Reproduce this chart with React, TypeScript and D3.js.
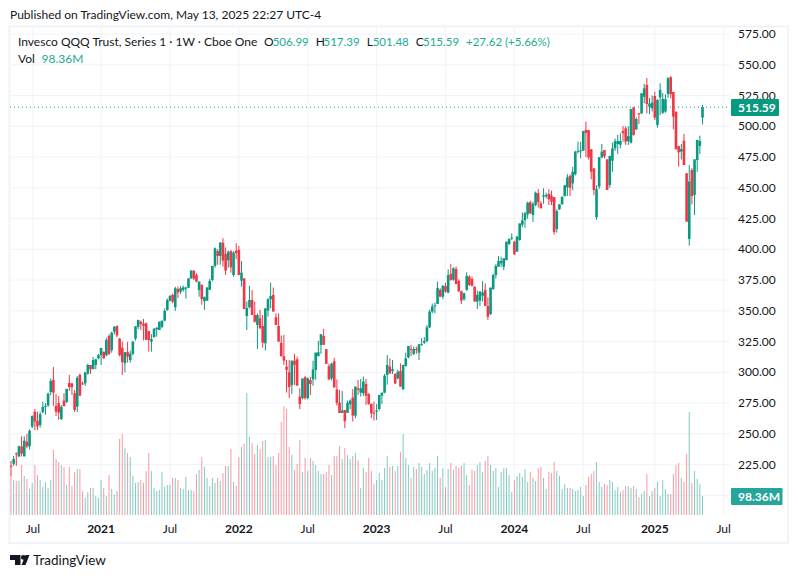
import * as d3 from 'd3';

const opens = [
  224, 225.7, 234, 231.7, 239.8, 231.7, 243.6, 239.8, 255.9, 268,
  260.5, 257.2, 267.8, 272, 273, 284, 293.8, 272.7, 275, 262,
  277, 276, 291.4, 291, 283, 272, 297.9, 291, 291, 299,
  306, 302.7, 306, 311.4, 314, 316.8, 313.9, 329.6, 318, 333,
  337.7, 327.4, 320, 307.4, 316.6, 310, 315, 327.4, 337, 341,
  339.6, 339.9, 333.6, 325, 328.5, 335, 334.4, 337, 342, 350.7,
  358.3, 362.9, 352.9, 367.8, 365.6, 367, 368, 368.8, 376.4, 382.7,
  379, 367, 371, 358, 358.3, 367, 375, 386.5, 398.6, 394.6,
  405.4, 396.2, 391, 398.4, 379.1, 398.9, 399.5, 374.5, 376.4, 345.8,
  352.9, 358.8, 346.6, 338.5, 343.9, 337.7, 323.6, 350.2, 359.4, 362.9,
  344.7, 337.7, 324, 313, 304.6, 300, 289.8, 309.5, 310.6, 280.3,
  279, 296, 279, 293.8, 294.3, 302, 313.3, 322.3, 329.6, 318.8,
  305, 295, 309, 286, 275.3, 267, 269.4, 267, 274, 279.5,
  264.8, 287, 283.5, 283, 290.5, 282.4, 274.3, 267.3, 268, 270.2,
  281, 283.5, 297.9, 304.6, 301, 298.7, 295, 301, 286.2, 305.2,
  312.2, 319, 315, 319, 316, 322.3, 324.1, 325.5, 336.6, 349.4,
  354, 355.6, 367, 361.5, 370.2, 364.8, 380, 375.3, 384, 374.3,
  365.9, 359.4, 367, 377.8, 375.9, 369.7, 357.5, 358.3, 362.3, 367,
  353.9, 347.4, 367.7, 379.1, 385.9, 388.6, 385.9, 391.3, 404.3, 409.2,
  406.2, 398.1, 407.6, 420, 423.8, 428.4, 438.2, 427.9, 436, 445.5,
  437.4, 442.8, 443.1, 445, 443.6, 442.5, 416.5, 432.5, 436.8, 443.3,
  450.4, 459.6, 453.6, 461, 479.4, 479.9, 480.2, 497, 497, 481.3,
  465.8, 426, 451, 474.8, 480.7, 473.1, 452.3, 472, 482, 485.6,
  485, 496.2, 498.3, 487.9, 486.7, 515.4, 497.5, 510.5, 510.5, 524,
  533.6, 516, 514.6, 524.6, 501, 523.5, 511, 512, 526.2, 539.8,
  527.9, 511.9, 484, 479.4, 488.3, 461.8, 408.4, 464.5, 444.2, 472.6,
  484, 506.99,
];

const highs = [
  228, 232, 235, 240.5, 248, 248, 250, 253.6, 265, 270.2,
  268, 268, 276.2, 275, 283.5, 295, 304.4, 282.4, 280.8, 273.5,
  283, 286.5, 297.9, 291.5, 285.7, 297, 299, 292.5, 300, 307,
  306, 312.5, 311, 315, 319.8, 316.8, 328, 331, 333, 337.7,
  338, 328, 325, 316.3, 324.7, 317.6, 325.5, 337.4, 342.6, 342,
  343.4, 340.4, 333.6, 331, 335.8, 336.6, 341.2, 342, 352, 360,
  362.9, 364, 369.5, 369.7, 370.2, 370.5, 369.5, 376.4, 383, 383,
  380.5, 373.7, 371.6, 361.5, 369, 376, 386.5, 401.5, 400, 406,
  409, 401.6, 399, 399.5, 398.4, 404.9, 402.7, 390.5, 376.4, 357.5,
  370.2, 367, 357.5, 348, 350.7, 346.6, 352, 360.2, 372.9, 369,
  348, 348, 330, 330.4, 310, 310, 309.5, 315, 312.8, 287,
  295, 297, 296, 296.5, 309.5, 316, 325.5, 331, 335.3, 318.8,
  307, 307.9, 311.7, 294.3, 285.7, 285, 269.4, 277, 278, 286.3,
  288.4, 293.8, 294.6, 296.5, 294.6, 283, 274.8, 276.2, 274.3, 281.6,
  283.5, 298.7, 314, 311.4, 310, 299.2, 302, 307.3, 306, 316,
  321.4, 322.3, 320.9, 320.9, 322.8, 327.7, 328.5, 338.5, 351, 356,
  356.7, 373.7, 368.3, 371, 372.9, 383.7, 388, 385.4, 385.9, 375.6,
  366.4, 364.8, 381.3, 379, 377.8, 369.7, 366.4, 366, 374.3, 372.4,
  360.9, 369, 380, 388, 394.6, 394, 392.7, 406.2, 409, 413,
  407, 411, 421, 430, 430.5, 438.7, 439.5, 438.7, 447, 449,
  439.3, 449.6, 446, 448.8, 447.7, 442.5, 432.6, 436.6, 442.8, 452.3,
  461, 461, 467, 480, 487.5, 487.5, 496.2, 503.8, 497, 481.3,
  465.8, 452, 475, 485.6, 480.7, 473.1, 475.9, 486.7, 490, 492.9,
  494.3, 500.2, 500, 500, 514, 515.4, 507.3, 511, 526.8, 534.4,
  539.2, 523, 525, 528, 522, 534.9, 527, 526, 540, 540.9,
  527.9, 511.9, 484, 485.6, 493.7, 461.8, 468.5, 466, 473.1, 488.9,
  492.4, 517.39,
];

const lows = [
  216, 224, 224, 231, 231.7, 231.7, 238.4, 237.3, 254.5, 253,
  253, 255, 266.5, 265.5, 272, 281.5, 272.7, 264.5, 261.3, 261.3,
  272, 275, 285, 281.6, 267.8, 267.8, 281, 289.7, 289, 298,
  298.8, 302.4, 302.5, 310.6, 306, 311, 313, 314, 316, 331,
  328.5, 313, 297.9, 300, 308, 308, 314, 325.8, 335, 334.4,
  326, 326.3, 316.8, 316.8, 328.5, 329, 334.4, 336, 341.5, 350,
  357.5, 356, 350, 360.4, 363.7, 365.6, 360, 368.5, 376, 375,
  373.2, 361.5, 355, 350.7, 358, 367, 374, 385, 387.5, 387.5,
  386, 379.1, 385, 381, 377.8, 392, 379.1, 369.7, 351.5, 334.4,
  352, 346.6, 340.4, 319, 335.3, 320, 317.8, 345.3, 352, 349.4,
  338.5, 325, 313, 306, 283.6, 279, 282.5, 289.8, 289.2, 270,
  278, 277.7, 278, 281.5, 289, 294, 312.8, 315, 322.3, 306.9,
  293.5, 293.5, 287.7, 273, 266.8, 267, 254.6, 267, 270, 260,
  262.7, 281.6, 280.3, 280.8, 273.5, 273.5, 262.7, 260.8, 261.3, 269,
  274.3, 283, 290, 298.7, 298.7, 290.5, 294.3, 288.4, 285.7, 304.6,
  311.4, 313.3, 314, 315, 310, 321.7, 323, 324.4, 336, 348,
  348, 355.6, 361, 359.4, 364.8, 364.3, 374.5, 374.5, 371.5, 365.3,
  355.6, 358.3, 366.4, 370.2, 369.7, 357.5, 351.5, 354, 357.5, 354,
  342.5, 346.6, 367, 376.3, 385.9, 385.9, 383, 391, 403.5, 407.6,
  395.4, 398, 407, 418, 417.6, 425, 428.7, 422.2, 435, 434,
  433.3, 437, 441.4, 436, 436, 412, 413.5, 432, 436, 443,
  443.3, 443.3, 448, 460, 478, 474, 480, 474.8, 473, 456.9,
  444, 424, 449, 473.9, 473.9, 448.2, 450, 463, 480, 477.5,
  482, 487.5, 485, 484.8, 486, 492.4, 497, 501.9, 510, 518.7,
  510.5, 510, 512, 505, 499, 509, 510, 511, 523, 522.7,
  497.5, 481.3, 467.2, 473, 468.5, 422.5, 403, 436.5, 427.9, 463,
  477.5, 501.48,
];

const closes = [
  223.3, 229.5, 233.5, 239.8, 234, 244.4, 239.8, 252.5, 264.5, 260,
  256, 266, 271.9, 272.5, 282.7, 293, 283.5, 268, 267.3, 272,
  272.7, 286.5, 288, 288, 269.4, 295.5, 281, 290.2, 300, 306,
  302.5, 310, 310.6, 314, 319.8, 311.4, 326.3, 315, 332.3, 336.9,
  330, 314, 308.4, 316.3, 312.8, 315, 325, 337.4, 342.6, 339.3,
  337.7, 326.3, 326.3, 327, 335.5, 336.3, 341.2, 342, 350, 358.8,
  362, 357.5, 368.3, 364.8, 368.3, 369, 369, 376.4, 382.7, 376.2,
  373.7, 373.7, 359.6, 361.3, 369, 374.3, 386.5, 400.8, 394.6, 405.4,
  390.8, 382.7, 398, 385.4, 397.3, 397, 379.1, 381, 351.5, 352.3,
  358.8, 346.6, 341.2, 346.6, 335.8, 324.1, 352, 359.4, 362, 349.4,
  338.5, 325, 313, 309.5, 302, 288, 309.5, 306, 289.2, 274.3,
  295, 279, 295, 290.5, 302.4, 316, 316.3, 331, 322.3, 306.9,
  294.3, 307, 287.7, 275, 267, 269, 260.3, 275.3, 277, 264.8,
  288.4, 285.8, 287, 292.5, 281, 274.3, 266.7, 266.4, 269, 281.6,
  283.5, 297.3, 306, 299.2, 302.5, 291, 300.6, 288.4, 306, 311.4,
  321.4, 318.2, 319, 318.2, 322.8, 322.8, 325.5, 336.6, 349.4, 353.5,
  354.5, 368.6, 361.5, 370.2, 365.6, 379, 375, 384.6, 371.8, 365.9,
  358.3, 364.2, 378.3, 371, 370.5, 357.5, 362.9, 365.6, 365, 354,
  345.2, 368.8, 379.1, 386.4, 390.5, 390.5, 392.7, 406.2, 408.4, 409.6,
  396, 410.3, 421, 423.5, 429.3, 437.9, 429.3, 436.8, 446, 438.2,
  433.3, 443.9, 444.2, 440.6, 438.7, 414, 431, 436.6, 442.8, 452,
  458.5, 450, 463, 479.4, 480, 480.4, 496.2, 494.5, 474.8, 463.1,
  448.2, 449, 474.8, 479.4, 475.5, 448.2, 475.9, 482, 487.9, 488,
  488, 494.3, 487.5, 492, 514, 492.9, 505.9, 510, 526.8, 530.8,
  518.1, 518.4, 519.2, 507, 521.4, 529.5, 522.2, 522, 539, 526.2,
  507.8, 481.3, 478.8, 481.5, 468.5, 422.5, 455, 443.3, 473.1, 488.9,
  488, 515.59,
];

// weekly volume in millions
const volumes = [
  207, 181, 176, 176, 259, 202, 186, 135, 166, 259,
  207, 181, 145, 171, 140, 181, 337, 290, 274, 259,
  249, 155, 249, 150, 223, 238, 238, 124, 88, 119,
  140, 140, 98, 88, 181, 140, 98, 207, 135, 104,
  124, 394, 419, 347, 321, 300, 202, 166, 171, 181,
  166, 228, 321, 228, 140, 124, 129, 223, 145, 155,
  155, 192, 192, 181, 140, 135, 197, 129, 129, 124,
  212, 233, 300, 249, 192, 150, 192, 166, 192, 176,
  217, 254, 254, 342, 171, 150, 300, 352, 368, 632,
  404, 373, 316, 362, 342, 383, 388, 300, 300, 305,
  259, 321, 482, 564, 549, 352, 311, 233, 264, 388,
  223, 295, 228, 295, 280, 259, 228, 212, 212, 223,
  259, 207, 305, 305, 357, 290, 347, 311, 290, 305,
  321, 285, 140, 243, 223, 295, 228, 161, 181, 217,
  181, 243, 305, 249, 254, 228, 254, 326, 419, 295,
  259, 192, 249, 238, 269, 249, 212, 233, 269, 228,
  243, 305, 192, 243, 145, 238, 269, 233, 254, 243,
  254, 269, 207, 155, 233, 228, 259, 274, 223, 280,
  305, 259, 228, 243, 145, 223, 243, 243, 207, 119,
  181, 202, 217, 197, 238, 171, 223, 192, 176, 243,
  249, 192, 135, 223, 217, 274, 228, 202, 135, 161,
  140, 140, 135, 124, 129, 145, 98, 155, 197, 212,
  228, 274, 171, 145, 161, 155, 181, 171, 129, 145,
  119, 129, 150, 150, 140, 150, 135, 93, 109, 124,
  212, 98, 124, 140, 171, 98, 181, 135, 109, 109,
  212, 259, 269, 192, 171, 316, 533, 166, 228, 186,
  161, 98.36,
];

const priceTicks = [575, 550, 525, 500, 475, 450, 425, 400, 375, 350, 325, 300, 275, 250, 225];
const hiddenPriceGrid = [200];
const timeTicks = [
  {label: 'Jul', date: '2020-07-08', year: false},
  {label: '2021', date: '2021-01-04', year: true},
  {label: 'Jul', date: '2021-07-05', year: false},
  {label: '2022', date: '2022-01-03', year: true},
  {label: 'Jul', date: '2022-07-04', year: false},
  {label: '2023', date: '2023-01-02', year: true},
  {label: 'Jul', date: '2023-07-03', year: false},
  {label: '2024', date: '2024-01-01', year: true},
  {label: 'Jul', date: '2024-07-01', year: false},
  {label: '2025', date: '2025-01-06', year: true},
  {label: 'Jul', date: '2025-07-07', year: false},
];

const legendValues = [
  {prefix: 'O', value: '506.99', x: 264, valueX: 272.7},
  {prefix: 'H', value: '517.39', x: 315.7, valueX: 323.5},
  {prefix: 'L', value: '501.48', x: 366.7, valueX: 372.7},
  {prefix: 'C', value: '515.59', x: 415.7, valueX: 423},
];

const up = '#089981';
const down = '#F23645';
const volText = '#22ab94';
const ink = '#131722';
const grid = '#f0f3fa';
const font = 'Lato, "Open Sans", sans-serif';

const weekMs = 7 * 24 * 3600 * 1000;
const start = Date.UTC(2020, 4, 11);
const dates = closes.map((_, i) => new Date(start + i * weekMs));

const x = d3
  .scaleUtc()
  .domain([dates[0], dates[dates.length - 1]])
  .range([11, 702.5]);
const y = d3.scaleLinear().domain([225, 575]).range([464.6, 34]);
const yVol = d3.scaleLinear().domain([0, 533]).range([515, 412]);

export default function App() {
  const last = closes[closes.length - 1];
  const lastVol = volumes[volumes.length - 1];
  return (
    <svg
      width={798}
      height={578}
      style={{position: 'absolute', left: 0, top: 0, background: '#fff', fontFamily: font}}
    >
      <defs>
        <clipPath id="pane">
          <rect x={10} y={27} width={720} height={488} />
        </clipPath>
      </defs>
      <text x={10} y={19} fontSize={12} fill={ink}>
        Published on TradingView.com, May 13, 2025 22:27 UTC-4
      </text>
      <rect x={9.5} y={26.5} width={778.5} height={516.5} fill="none" stroke={grid} strokeWidth={2} />

      {timeTicks.map((t) => (
        <line
          key={t.date}
          x1={x(new Date(t.date))}
          x2={x(new Date(t.date))}
          y1={27}
          y2={515}
          stroke={grid}
        />
      ))}
      {[...priceTicks, ...hiddenPriceGrid].map((p) => (
        <line key={p} x1={10} x2={730} y1={y(p)} y2={y(p)} stroke={grid} />
      ))}

      <g clipPath="url(#pane)">
        {volumes.map((v, i) => (
          <rect
            key={i}
            x={x(dates[i]) - 0.5}
            y={yVol(v)}
            width={1}
            height={yVol(0) - yVol(v)}
            fill={closes[i] >= opens[i] ? up : down}
            opacity={0.5}
          />
        ))}
        {closes.map((c, i) => {
          const color = c >= opens[i] ? up : down;
          const top = y(Math.max(c, opens[i]));
          const bottom = y(Math.min(c, opens[i]));
          return (
            <g key={i} fill={color}>
              <rect x={x(dates[i]) - 0.5} y={y(highs[i])} width={1} height={y(lows[i]) - y(highs[i])} />
              <rect x={x(dates[i]) - 1.3} y={top} width={2.6} height={Math.max(bottom - top, 1)} />
            </g>
          );
        })}
      </g>

      <line x1={10} x2={730} y1={y(last)} y2={y(last)} stroke={up} strokeDasharray="1 3" />

      <text x={18} y={46} fontSize={12} fill={ink}>
        Invesco QQQ Trust, Series 1 · 1W · Cboe One
      </text>
      {legendValues.map((d) => (
        <g key={d.prefix}>
          <text x={d.x} y={46} fontSize={12} fill={ink}>
            {d.prefix}
          </text>
          <text x={d.valueX} y={46} fontSize={11.5} fill={volText}>
            {d.value}
          </text>
        </g>
      ))}
      <text x={466} y={46} fontSize={11.5} fill={volText}>
        +27.62 (+5.66%)
      </text>
      <text x={18} y={63} fontSize={12} fill={ink}>
        Vol
      </text>
      <text x={41.5} y={63} fontSize={12} fill={volText}>
        {lastVol.toFixed(2)}M
      </text>

      {priceTicks.map((p) => (
        <text key={p} x={738} y={y(p) + 4} fontSize={12} fill={ink}>
          {p.toFixed(2)}
        </text>
      ))}
      <rect x={731} y={99} width={48} height={17} rx={1} fill={up} />
      <text x={738} y={112} fontSize={12} fontWeight={700} fill="#fff">
        {last.toFixed(2)}
      </text>
      <rect x={731} y={488} width={51.5} height={17} rx={1} fill="#26a69a" />
      <text x={738} y={501} fontSize={12} fontWeight={700} fill="#fff">
        {lastVol.toFixed(2)}M
      </text>

      {timeTicks.map((t) => (
        <text
          key={t.date}
          x={x(new Date(t.date))}
          y={533}
          fontSize={12}
          fontWeight={t.year ? 700 : 400}
          textAnchor="middle"
          fill={ink}
        >
          {t.label}
        </text>
      ))}

      <g fill={ink}>
        <path d="M10 555H20.5V565H15V560H10Z" />
        <circle cx={23.3} cy={557.4} r={2.4} />
        <path d="M21.5 565L25.5 555H29.5L25.5 565Z" />
      </g>
      <text x={33} y={565} fontSize={13.5} fill={ink}>
        TradingView
      </text>
    </svg>
  );
}
